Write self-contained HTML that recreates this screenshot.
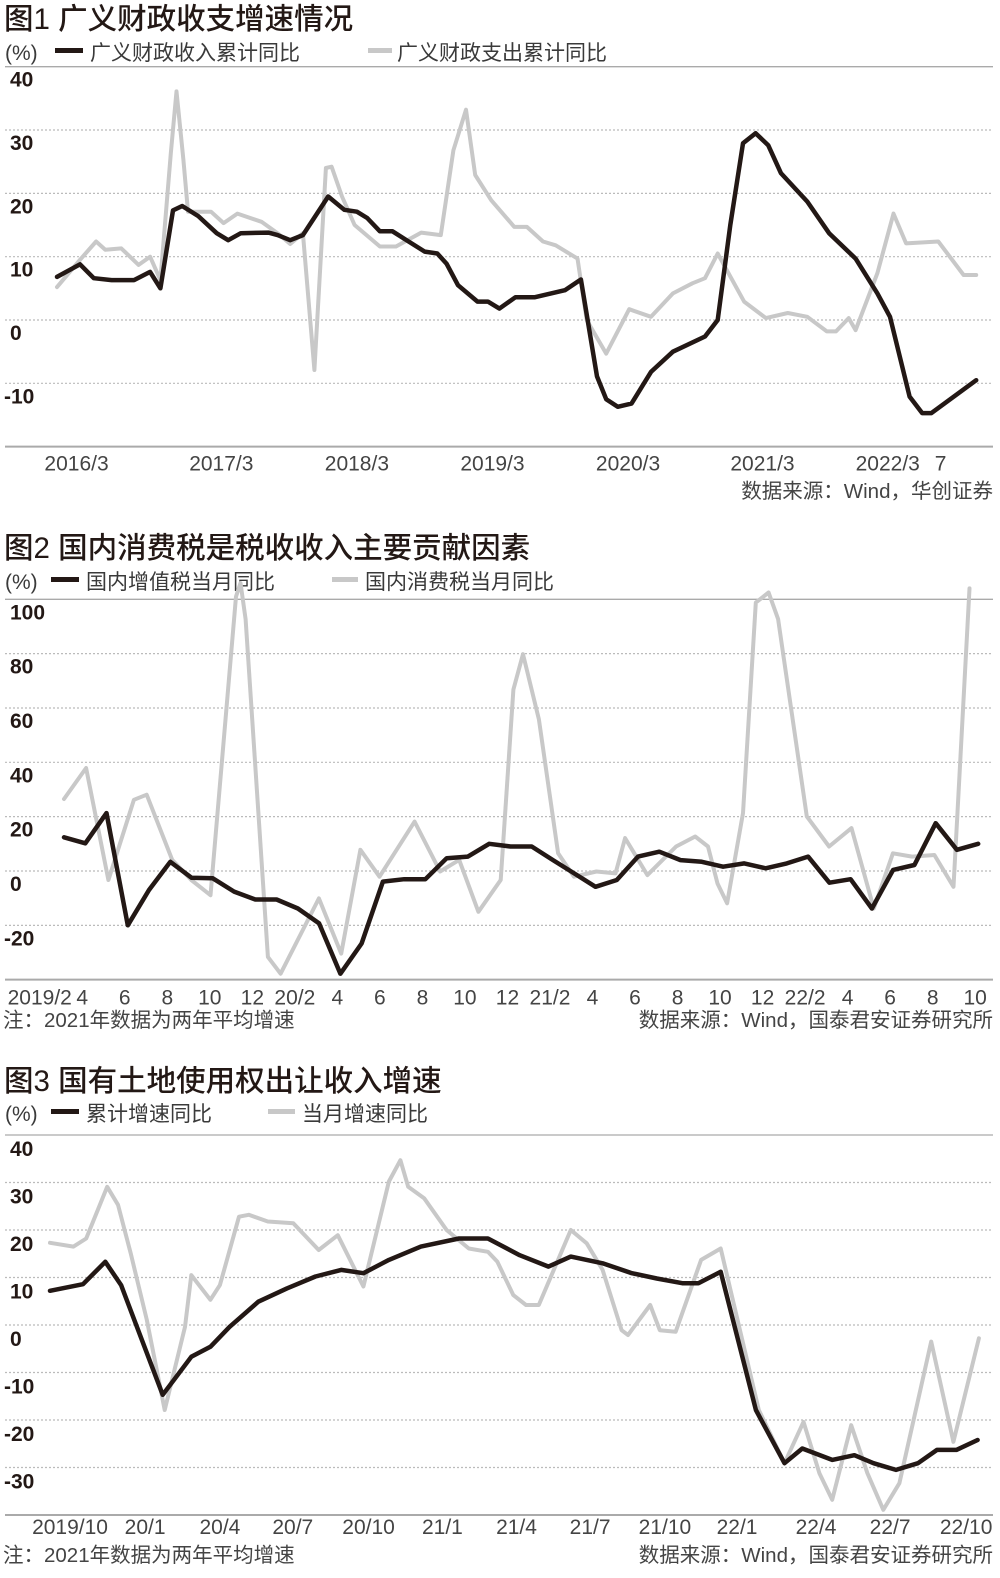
<!DOCTYPE html>
<html><head><meta charset="utf-8">
<style>
html,body{margin:0;padding:0;background:#fff;}
svg{display:block;}
text{font-family:"Liberation Sans","Noto Sans CJK SC",sans-serif;}
.ttl{font-size:29.5px;fill:#231815;font-weight:500;}
.lg{font-size:21px;fill:#3a3a3a;}
.yl{font-size:21px;fill:#231815;font-weight:bold;}
.xl{font-size:21px;fill:#444;}
.note{font-size:20.5px;fill:#444;}
</style></head>
<body>
<svg id="root" width="1000" height="1578" viewBox="0 0 1000 1578" xmlns="http://www.w3.org/2000/svg">
<text class="ttl" x="4" y="29">图1 广义财政收支增速情况</text>
<g>
<text class="lg" x="5" y="60">(%)</text>
<rect x="55" y="48" width="28" height="5" fill="#231815"/>
<text class="lg" x="90" y="60">广义财政收入累计同比</text>
<rect x="368" y="48" width="24" height="5" fill="#c8c8c8"/>
<text class="lg" x="397" y="60">广义财政支出累计同比</text>
</g>
<g id="c1"></g>
<text class="note" x="993" y="498" text-anchor="end">数据来源：Wind，华创证券</text>

<text class="ttl" x="4" y="558">图2 国内消费税是税收收入主要贡献因素</text>
<g>
<text class="lg" x="5" y="589">(%)</text>
<rect x="51" y="577" width="28" height="5" fill="#231815"/>
<text class="lg" x="86" y="589">国内增值税当月同比</text>
<rect x="332" y="577" width="26" height="5" fill="#c8c8c8"/>
<text class="lg" x="365" y="589">国内消费税当月同比</text>
</g>
<g id="c2"></g>
<text class="note" x="3" y="1027">注：2021年数据为两年平均增速</text>
<text class="note" x="993" y="1027" text-anchor="end">数据来源：Wind，国泰君安证券研究所</text>

<text class="ttl" x="4" y="1091">图3 国有土地使用权出让收入增速</text>
<g>
<text class="lg" x="5" y="1121">(%)</text>
<rect x="51" y="1109" width="28" height="5" fill="#231815"/>
<text class="lg" x="86" y="1121">累计增速同比</text>
<rect x="268" y="1109" width="27" height="5" fill="#c8c8c8"/>
<text class="lg" x="302" y="1121">当月增速同比</text>
</g>
<g id="c3"></g>
<text class="note" x="3" y="1562">注：2021年数据为两年平均增速</text>
<text class="note" x="993" y="1562" text-anchor="end">数据来源：Wind，国泰君安证券研究所</text>
</svg>
<script>
// ---------- Chart 1 data (month index from 2016/1) ----------
const c1RevIdx = [0,2,3.2,4.75,6.7,8.1,9,10.1,10.9,12.3,13.9,14.9,16,18.4,19.2,20.3,21.4,23.6,25,26.1,27,28.1,29.2,30.6,32,33.1,33.9,34.9,36.6,37.5,38.5,39.9,41.6,44.2,45.6,47,47.8,48.8,50,51.7,53.6,56.4,57.5,58.6,59.7,60.8,61.9,63,65.3,67.2,69.5,71.4,72.5,74.2,75.3,76.1,80];
const c1RevVal = [6.8,8.8,6.6,6.3,6.3,7.6,5.0,17.3,18,16.4,13.7,12.6,13.7,13.8,13.4,12.6,13.4,19.5,17.4,17.1,16.1,14.0,14,12.4,10.8,10.5,8.9,5.5,2.9,2.9,1.8,3.6,3.6,4.7,6.4,-8.9,-12.5,-13.7,-13.2,-8.2,-5,-2.6,0,15,27.9,29.5,27.6,23.2,18.7,13.7,9.7,4.2,0.5,-12.1,-14.7,-14.7,-9.5];
const c1ExpIdx = [0,2,3.4,4.2,5.6,7.1,8.1,9,9.9,10.4,11,11.4,13.4,14.5,15.7,17.8,19.2,20.3,21.4,22.4,23.4,23.9,24.8,25.9,28.1,29.5,31.7,33.4,34.5,35.6,36.4,37.8,39.8,40.9,42.3,43.4,45.3,46.1,47.8,49.8,51.7,53.6,55.3,56.4,57.5,59.8,61.7,63.6,65.3,67,67.8,68.9,69.5,71.4,72.8,73.9,76.7,78.9,80];
const c1ExpVal = [5.2,9.5,12.4,11.1,11.3,8.7,10,6.3,26.3,36.1,25.3,17.1,17.1,15.3,16.8,15.5,13.7,12.0,13.7,-7.9,24,24.2,19.5,15,11.6,11.6,13.8,13.4,26.8,33.2,22.9,18.9,14.7,14.7,12.4,11.8,9.7,0,-5.3,1.7,0.5,4.2,5.8,6.6,10.5,2.9,0.3,1.1,0.5,-1.8,-1.8,0.3,-1.6,7.4,16.8,12.1,12.4,7.1,7.1];
const c1YTicks = [40,30,20,10,0,-10];
const c1XLabels = ["2016/3","2017/3","2018/3","2019/3","2020/3","2021/3","2022/3","7"];
const c1XLabelIdx = [1.7,14.3,26.1,37.9,49.7,61.4,72.3,76.9];

// ---------- Chart 2 data (month index from 2019/3) ----------
const c2VatVal = [12.4,10.2,21.3,-20,-7,3.4,-2.5,-2.7,-7.6,-10.5,-10.5,-13.8,-19.3,-37.8,-26.7,-3.9,-3,-3,4.7,5.3,10,9,9,4,-0.9,-5.8,-3.3,5.3,7.1,4,3.4,1.6,2.8,1,2.8,5.3,-4.3,-3,-13.8,0.4,2.2,17.6,7.8,10];
const c2CtIdx = [0,1.04,2.09,3.29,3.89,5.09,5.99,6.89,8.09,8.3,8.54,9.59,10.19,11.99,13.04,13.94,14.84,16.49,17.69,18.59,19.49,20.54,21.14,21.59,22.34,23.24,23.99,25.04,25.94,26.39,27.44,28.79,29.69,30.29,30.74,31.19,31.94,32.54,33.14,33.59,34.94,35.99,37.04,38.09,38.99,39.89,40.94,41.84,42.59];
const c2CtVal = [26.5,37.9,-3.3,26.2,28.1,4.1,-3.3,-8.9,101,106,92.7,-31.6,-37.8,-10.1,-30.4,7.8,-2.1,18.2,-0.2,4.1,-15,-3.3,66.8,79.8,55.8,6.5,-2.1,-0.2,-0.9,12.1,-1.5,9,12.7,9,-4.6,-11.9,21.3,98.8,102.5,92.7,20.1,9,15.8,-13.8,6.5,5.3,5.9,-5.8,104];
const c2YTicks = [100,80,60,40,20,0,-20];
const c2XLabels = ["2019/2","4","6","8","10","12","20/2","4","6","8","10","12","21/2","4","6","8","10","12","22/2","4","6","8","10"];
const c2XLabelIdx = [-1,1,3,5,7,9,11,13,15,17,19,21,23,25,27,29,31,33,35,37,39,41,43];

// ---------- Chart 3 data (month index from 2019/9) ----------
const c3CumIdx = [0,1.35,2.26,2.91,4.61,5.78,6.56,7.34,8.52,9.69,10.86,11.91,12.82,13.86,15.17,16.73,17.91,19.21,20.39,21.3,22.6,23.8,24.82,25.86,26.52,27.43,28.87,30.04,30.77,31.99,32.9,33.68,34.6,35.5,36.28,37.07,37.94];
const c3CumVal = [7.2,8.6,13.3,8.4,-14.7,-6.7,-4.6,-0.4,4.9,7.7,10.2,11.6,10.9,13.7,16.5,18.2,18.2,14.7,12.3,14.4,13,10.9,9.8,8.8,8.8,11.2,-17.9,-29.1,-26,-28.4,-27.4,-29.1,-30.5,-29.1,-26.3,-26.3,-24.2];
const c3MonIdx = [0,0.96,1.48,2.34,2.78,3.3,3.96,4.69,5.52,5.78,6.56,6.95,7.73,8.13,8.91,9.95,10.99,11.77,12.82,13.86,14.33,14.65,15.3,16.22,17.13,17.91,18.3,18.95,19.47,19.99,21.3,21.95,22.6,23.38,23.64,24.55,24.94,25.59,26.63,27.43,28.99,30.04,30.82,31.47,31.99,32.77,33.43,34.08,34.74,36.04,36.95,37.99];
const c3MonVal = [17.3,16.5,18.2,29.1,25.3,15.1,1.1,-17.9,-0.4,10.5,5.3,8.4,22.8,23.2,21.8,21.4,15.8,18.9,8.1,30.2,34.7,29.1,26.7,20,16.1,15.4,13.3,6.3,4.2,4.2,20,17.2,11.6,-1.1,-2.1,4.2,-1.1,-1.4,13.7,16.1,-17.9,-29.1,-20.4,-31.2,-36.8,-21.1,-31.2,-38.9,-33.3,-3.5,-24.6,-2.8];
const c3YTicks = [40,30,20,10,0,-10,-20,-30];
const c3XLabels = ["2019/10","20/1","20/4","20/7","20/10","21/1","21/4","21/7","21/10","22/1","22/4","22/7","22/10"];
const c3XLabelIdx = [0.82,3.89,6.95,9.93,13.03,16.05,19.08,22.09,25.15,28.1,31.33,34.36,37.47];

const NS = "http://www.w3.org/2000/svg";
function mk(parent, tag, attrs){
  const el = document.createElementNS(NS, tag);
  for (const k in attrs) el.setAttribute(k, attrs[k]);
  parent.appendChild(el);
  return el;
}

function drawChart(gid, cfg){
  const g = document.getElementById(gid);
  const y = v => cfg.y0 - (v - cfg.vBase) * cfg.py;
  const x = i => cfg.x0 + i * cfg.step;
  const top = mk(g, "line", {x1:5, x2:993, y1:y(cfg.vTop), y2:y(cfg.vTop), stroke:"#aaa", "stroke-width":1.3});
  
  
  cfg.yTicks.forEach(t => {
    if (t !== cfg.vTop) {
      const gl = mk(g, "line", {x1:5, x2:993, y1:y(t), y2:y(t), stroke:"#bbb", "stroke-width":1.2, "stroke-dasharray":"2 2"});
      
      
    }
    const tx = mk(g, "text", {x: t < 0 ? 4 : 10, y: y(t) + cfg.labOff, class:"yl"});
    tx.textContent = String(t);
    
    
  });
  const ax = mk(g, "line", {x1:5, x2:993, y1:y(cfg.vBottom), y2:y(cfg.vBottom), stroke:"#aaa", "stroke-width":2});
  
  
  cfg.xLabels.forEach((lab, k) => {
    const tx = mk(g, "text", {x: x(cfg.xLabelIdx[k]) + (cfg.xShift||0), y: y(cfg.vBottom) + cfg.xLabDy, class:"xl", "text-anchor":"middle"});
    tx.textContent = lab;
    
    
  });
  cfg.series.forEach(s => {
    const pts = s.vals.map((v, k) => x(s.idx ? s.idx[k] : k).toFixed(1) + "," + y(v).toFixed(1)).join(" ");
    const pl = mk(g, "polyline", {points: pts, fill:"none", stroke:s.color, "stroke-width":s.w, "stroke-linejoin":"round", "stroke-linecap":"round"});
    
    
  });
}

drawChart("c1", {y0:320, vBase:0, py:6.333, x0:57, step:11.49, vTop:40, vBottom:-20, labOff:20, xLabDy:24, xShift:0,
  yTicks:c1YTicks, xLabels:c1XLabels, xLabelIdx:c1XLabelIdx,
  series:[{name:"expenditure-line", idx:c1ExpIdx, vals:c1ExpVal, color:"#c8c8c8", w:4},
          {name:"revenue-line", idx:c1RevIdx, vals:c1RevVal, color:"#231815", w:4.5}]});

drawChart("c2", {y0:871, vBase:0, py:2.717, x0:64, step:21.26, vTop:100, vBottom:-40, labOff:20, xLabDy:25, xShift:-3,
  yTicks:c2YTicks, xLabels:c2XLabels, xLabelIdx:c2XLabelIdx,
  series:[{name:"consumption-tax-line", idx:c2CtIdx, vals:c2CtVal, color:"#c8c8c8", w:4},
          {name:"vat-line", idx:null, vals:c2VatVal, color:"#231815", w:4.5}]});

drawChart("c3", {y0:1325, vBase:0, py:4.75, x0:50, step:24.45, vTop:40, vBottom:-40, labOff:21, xLabDy:19, xShift:0,
  yTicks:c3YTicks, xLabels:c3XLabels, xLabelIdx:c3XLabelIdx,
  series:[{name:"monthly-growth-line", idx:c3MonIdx, vals:c3MonVal, color:"#c8c8c8", w:4},
          {name:"cumulative-growth-line", idx:c3CumIdx, vals:c3CumVal, color:"#231815", w:4.5}]});
</script>
</body></html>
